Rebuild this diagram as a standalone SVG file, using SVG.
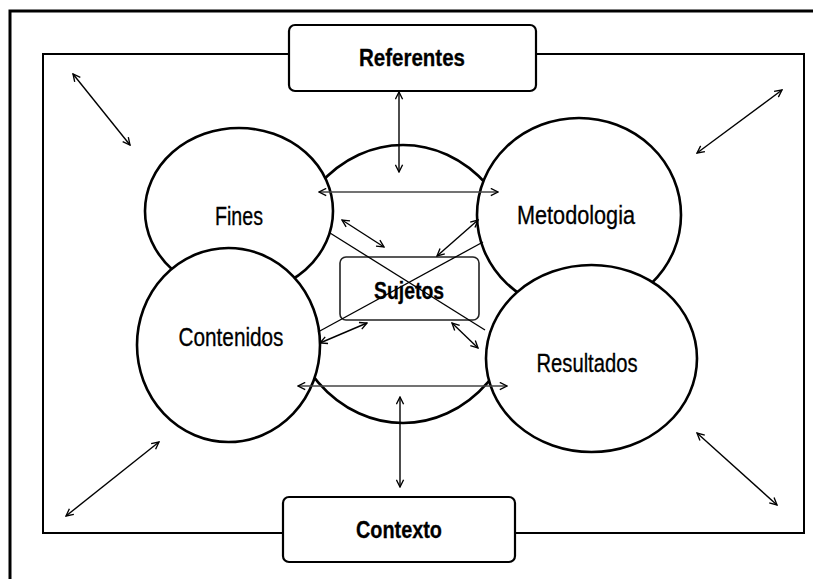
<svg xmlns="http://www.w3.org/2000/svg" width="813" height="579" viewBox="0 0 813 579">
<style>
.frame{fill:none;stroke:#000;stroke-width:3}
.inner{fill:none;stroke:#000;stroke-width:2}
.circ{fill:#fff;stroke:#000;stroke-width:2.6}
.box{fill:#fff;stroke:#000;stroke-width:2.2}
.sbox{fill:none;stroke:#222;stroke-width:1.6}
.lbl{font-family:"Liberation Sans",Arial,sans-serif;font-size:25px;fill:#000;stroke:#000;stroke-width:0.3;text-anchor:middle}
.bold{font-weight:bold;font-size:24px}
.ar{fill:none;stroke:#000;stroke-width:1.4;marker-start:url(#ah);marker-end:url(#ah)}
.hz{fill:none;stroke:#444;stroke-width:1.3;marker-start:url(#ah);marker-end:url(#ah)}
.ln{fill:none;stroke:#000;stroke-width:1.3}
</style>
<defs>
<marker id="ah" viewBox="0 0 10 10" refX="9" refY="5" markerWidth="9" markerHeight="9" markerUnits="userSpaceOnUse" orient="auto-start-reverse">
<path d="M1,1 L9,5 L1,9" fill="none" stroke="#000" stroke-width="1.5"/>
</marker>
</defs>
<rect width="813" height="579" fill="#fff"/>
<path class="frame" d="M10,579 V11 H813"/>
<rect class="inner" x="43" y="54" width="761" height="479"/>

<g id="centro">
<ellipse class="circ" cx="403" cy="284" rx="120" ry="139"/>
</g>
<g id="fines">
<ellipse class="circ" cx="239" cy="211" rx="94" ry="83"/>
<text class="lbl" x="239" y="225" textLength="48" lengthAdjust="spacingAndGlyphs">Fines</text>
</g>
<g id="metodologia">
<ellipse class="circ" cx="579" cy="215" rx="102" ry="97"/>
<text class="lbl" x="576" y="224" textLength="118" lengthAdjust="spacingAndGlyphs">Metodologia</text>
</g>
<g id="contenidos">
<ellipse class="circ" cx="228.5" cy="345" rx="91.5" ry="97"/>
<text class="lbl" x="231" y="346" textLength="105" lengthAdjust="spacingAndGlyphs">Contenidos</text>
</g>
<g id="resultados">
<ellipse class="circ" cx="591.5" cy="358.5" rx="105.5" ry="93.5"/>
<text class="lbl" x="587" y="372" textLength="101" lengthAdjust="spacingAndGlyphs">Resultados</text>
</g>
<g id="sujetos">
<rect class="sbox" x="340" y="257" width="139" height="63" rx="6"/>
<text class="lbl bold" x="409" y="299" textLength="70" lengthAdjust="spacingAndGlyphs">Sujetos</text>
</g>
<g id="referentes">
<rect class="box" x="289" y="25" width="247" height="66" rx="6"/>
<text class="lbl bold" x="412" y="66" textLength="106" lengthAdjust="spacingAndGlyphs">Referentes</text>
</g>
<g id="contexto">
<rect class="box" x="283" y="497" width="232" height="65" rx="6"/>
<text class="lbl bold" x="399" y="538" textLength="86" lengthAdjust="spacingAndGlyphs">Contexto</text>
</g>

<g id="connectors">
<line class="ar" x1="73" y1="74" x2="130" y2="145"/>
<line class="ar" x1="697" y1="153" x2="782" y2="90"/>
<line class="ar" x1="66" y1="516" x2="159" y2="442"/>
<line class="ar" x1="697" y1="433" x2="777" y2="505"/>
<line class="ar" x1="399" y1="92" x2="399" y2="172"/>
<line class="ar" x1="400" y1="397" x2="400" y2="487"/>
<line class="hz" x1="319" y1="192" x2="498" y2="192"/>
<line class="hz" x1="298" y1="386" x2="507" y2="386"/>
<line class="ar" x1="342" y1="220" x2="384" y2="247"/>
<line class="ar" x1="437" y1="256" x2="478" y2="220"/>
<line class="ar" x1="320" y1="343" x2="367" y2="323"/>
<line class="ar" x1="452" y1="323" x2="478" y2="348"/>
<line class="ln" x1="330" y1="233" x2="485" y2="330"/>
<line class="ln" x1="483" y1="242" x2="318" y2="332"/>
</g>
</svg>
